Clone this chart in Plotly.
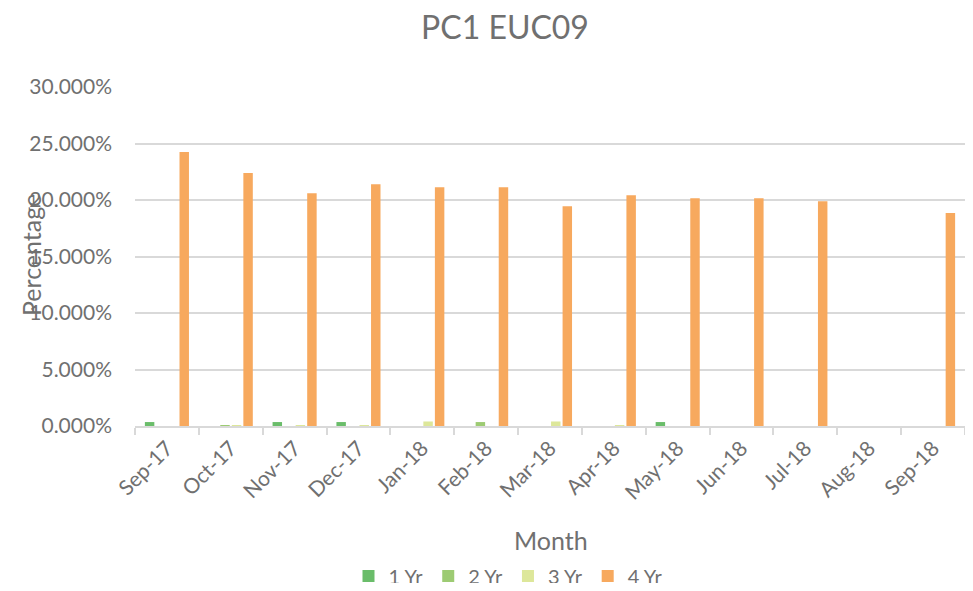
import plotly.graph_objects as go

months = ["Sep-17", "Oct-17", "Nov-17", "Dec-17", "Jan-18", "Feb-18", "Mar-18",
          "Apr-18", "May-18", "Jun-18", "Jul-18", "Aug-18", "Sep-18"]
yr1 = [0.0035, 0, 0.0035, 0.0035, 0, 0, 0, 0, 0.0035, 0, 0, 0, 0]
yr2 = [0, 0.0003, 0, 0, 0, 0.0035, 0, 0, 0, 0, 0, 0, 0]
yr3 = [0, 0.0005, 0.0002, 0.0002, 0.004, 0, 0.004, 0.0002, 0, 0, 0, 0, 0]
yr4 = [0.2425, 0.224, 0.206, 0.214, 0.2113, 0.2113, 0.1945, 0.2041, 0.2015,
       0.2015, 0.199, 0, 0.1885]
series_names = ["1 Yr", "2 Yr", "3 Yr", "4 Yr"]
colors = ["#6ABD6A", "#9DCB73", "#DDE79A", "#F7A95E"]

FONT = "Lato, 'Open Sans', sans-serif"
GREY = "#707070"

fig = go.Figure()
for name, vals, col in zip(series_names, [yr1, yr2, yr3, yr4], colors):
    fig.add_trace(go.Bar(x=months, y=vals, name=name, marker_color=col,
                         marker_line_width=0))

# page body has an 8px margin; keep the figure inside the viewport
OFF = 8
W, H = 973 - 2 * OFF, 591 - 2 * OFF
plot_left, plot_right = 135 - OFF, W
plot_top, plot_bottom = 87 - OFF, 426 - OFF
L, R, T, B = plot_left, W - plot_right, plot_top, H - plot_bottom
ph = plot_bottom - plot_top
pw = plot_right - plot_left


def py(ref_y):
    return (plot_bottom - (ref_y - OFF)) / ph


def px(ref_x):
    return ((ref_x - OFF) - plot_left) / pw


fig.update_layout(
    width=W, height=H,
    margin=dict(l=L, r=R, t=T, b=B, autoexpand=False),
    paper_bgcolor="white", plot_bgcolor="white",
    barmode="group", bargap=0.277, bargroupgap=0.18,
    font=dict(family=FONT, color=GREY, size=21),
    title=dict(text="PC1 EUC09", x=(505 - OFF) / W, xanchor="center",
               y=1 - (28 - OFF) / H, yanchor="middle",
               font=dict(size=32, color=GREY, family=FONT)),
    showlegend=True,
    legend=dict(orientation="h", x=px(508), xanchor="center",
                y=py(576), yanchor="middle",
                font=dict(size=20, color=GREY, family=FONT),
                itemwidth=30, traceorder="normal"),
    xaxis=dict(type="category", showline=True, linecolor="#D9D9D9", linewidth=1.5,
               ticks="outside", tickson="boundaries", ticklen=7,
               tickcolor="#D9D9D9", tickwidth=1.5,
               tickangle=-45, tickfont=dict(size=21, color=GREY),
               showgrid=False, zeroline=False, automargin=False),
    yaxis=dict(range=[0, 0.30], dtick=0.05, tickformat=".3%",
               showgrid=True, gridcolor="#D9D9D9", gridwidth=1.5,
               zeroline=False, showline=False,
               ticklabelstandoff=22, automargin=False,
               tickfont=dict(size=21, color=GREY)),
    annotations=[
        dict(text="Percentage", textangle=-90, xref="paper", yref="paper",
             x=px(31), y=py(255), xanchor="center", yanchor="middle",
             showarrow=False, font=dict(size=25, color=GREY, family=FONT)),
        dict(text="Month", xref="paper", yref="paper",
             x=px(551), y=py(540), xanchor="center", yanchor="middle",
             showarrow=False, font=dict(size=25, color=GREY, family=FONT)),
    ],
)

fig.write_html("out.html")
